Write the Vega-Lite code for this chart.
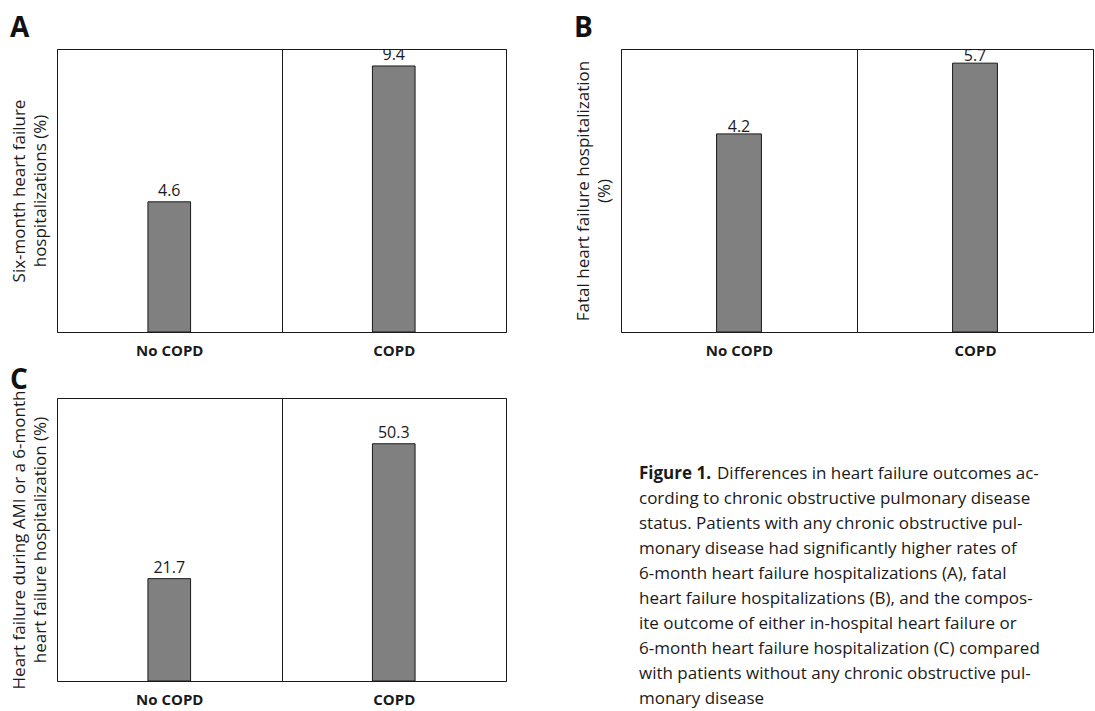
{
  "$schema": "https://vega.github.io/schema/vega-lite/v6.json",
  "background": "white",
  "padding": {"left": 9, "top": 14, "right": 0, "bottom": 0},
  "config": {
    "font": "Open Sans",
    "view": {"stroke": "#1a1a1a", "strokeWidth": 1},
    "axis": {
      "labelFont": "Open Sans", "titleFont": "Open Sans",
      "labelColor": "#1a1a1a", "titleColor": "#1a1a1a",
      "titleFontWeight": "normal", "titleFontSize": 17, "titleLineHeight": 21,
      "labelFontSize": 15, "labelFontWeight": "bold",
      "gridColor": "#1a1a1a", "gridOpacity": 1, "gridWidth": 1
    },
    "text": {"font": "Open Sans", "fontSize": 16, "color": "#1a1a1a"},
    "title": {"font": "Open Sans", "fontSize": 28, "fontWeight": "bold", "color": "#111111", "anchor": "start", "frame": "bounds", "baseline": "alphabetic"}
  },
  "datasets": {
    "a": [{"group": "No COPD", "value": 4.6}, {"group": "COPD", "value": 9.4}],
    "b": [{"group": "No COPD", "value": 4.2}, {"group": "COPD", "value": 5.7}],
    "c": [{"group": "No COPD", "value": 21.7}, {"group": "COPD", "value": 50.3}],
    "caption": [
      {"line": 1, "style": "bold", "text": "Figure 1."},
      {"line": 1, "style": "lead", "text": "Differences in heart failure outcomes ac-"},
      {"line": 2, "style": "body", "text": "cording to chronic obstructive pulmonary disease"},
      {"line": 3, "style": "body", "text": "status. Patients with any chronic obstructive pul-"},
      {"line": 4, "style": "body", "text": "monary disease had significantly higher rates of"},
      {"line": 5, "style": "body", "text": "6-month heart failure hospitalizations (A), fatal"},
      {"line": 6, "style": "body", "text": "heart failure hospitalizations (B), and the compos-"},
      {"line": 7, "style": "body", "text": "ite outcome of either in-hospital heart failure or"},
      {"line": 8, "style": "body", "text": "6-month heart failure hospitalization (C) compared"},
      {"line": 9, "style": "body", "text": "with patients without any chronic obstructive pul-"},
      {"line": 10, "style": "body", "text": "monary disease"}
    ]
  },
  "spacing": 7,
  "vconcat": [
    {
      "spacing": 66,
      "hconcat": [
        {
          "title": {"text": "A", "offset": 6},
          "width": 449, "height": 283,
          "data": {"name": "a"},
          "encoding": {
            "x": {"field": "group", "type": "nominal", "sort": null,
                  "scale": {"paddingInner": 0, "paddingOuter": 0},
                  "axis": {"title": null, "labelAngle": 0, "ticks": false, "domain": false, "grid": true, "tickBand": "extent", "labelPadding": 11}},
            "y": {"field": "value", "type": "quantitative",
                  "scale": {"domain": [0, 10], "nice": false},
                  "axis": {"title": ["Six-month heart failure", "hospitalizations (%)"], "labels": false, "ticks": false, "domain": false, "grid": false, "titlePadding": 8}}
          },
          "layer": [
            {"mark": {"type": "bar", "width": {"band": 0.19}, "fill": "#808080", "stroke": "#1a1a1a", "strokeWidth": 1}},
            {"mark": {"type": "text", "baseline": "alphabetic", "dy": -6, "clip": true},
             "encoding": {"text": {"field": "value", "type": "quantitative", "format": ".1f"}}}
          ]
        },
        {
          "title": {"text": "B", "offset": 6},
          "width": 472, "height": 283,
          "data": {"name": "b"},
          "encoding": {
            "x": {"field": "group", "type": "nominal", "sort": null,
                  "scale": {"paddingInner": 0, "paddingOuter": 0},
                  "axis": {"title": null, "labelAngle": 0, "ticks": false, "domain": false, "grid": true, "tickBand": "extent", "labelPadding": 11}},
            "y": {"field": "value", "type": "quantitative",
                  "scale": {"domain": [0, 6], "nice": false},
                  "axis": {"title": ["Fatal heart failure hospitalization", "(%)"], "labels": false, "ticks": false, "domain": false, "grid": false, "titlePadding": 8}}
          },
          "layer": [
            {"mark": {"type": "bar", "width": {"band": 0.19}, "fill": "#808080", "stroke": "#1a1a1a", "strokeWidth": 1}},
            {"mark": {"type": "text", "baseline": "alphabetic", "dy": -2, "clip": true},
             "encoding": {"text": {"field": "value", "type": "quantitative", "format": ".1f"}}}
          ]
        }
      ]
    },
    {
      "spacing": 132,
      "hconcat": [
        {
          "title": {"text": "C", "offset": -5},
          "width": 449, "height": 283,
          "data": {"name": "c"},
          "encoding": {
            "x": {"field": "group", "type": "nominal", "sort": null,
                  "scale": {"paddingInner": 0, "paddingOuter": 0},
                  "axis": {"title": null, "labelAngle": 0, "ticks": false, "domain": false, "grid": true, "tickBand": "extent", "labelPadding": 11}},
            "y": {"field": "value", "type": "quantitative",
                  "scale": {"domain": [0, 60], "nice": false},
                  "axis": {"title": ["Heart failure during AMI or a 6-month", "heart failure hospitalization (%)"], "labels": false, "ticks": false, "domain": false, "grid": false, "titlePadding": 8}}
          },
          "layer": [
            {"mark": {"type": "bar", "width": {"band": 0.19}, "fill": "#808080", "stroke": "#1a1a1a", "strokeWidth": 1}},
            {"mark": {"type": "text", "baseline": "alphabetic", "dy": -6, "clip": true},
             "encoding": {"text": {"field": "value", "type": "quantitative", "format": ".1f"}}}
          ]
        },
        {
          "width": 440, "height": 308,
          "view": {"stroke": null},
          "data": {"name": "caption"},
          "encoding": {
            "x": {"datum": 0, "type": "quantitative", "scale": {"domain": [0, 1]}, "axis": null},
            "y": {"field": "line", "type": "quantitative", "scale": {"domain": [-2.04, 10.28], "reverse": true, "nice": false, "zero": false}, "axis": null},
            "text": {"field": "text", "type": "nominal"}
          },
          "layer": [
            {"transform": [{"filter": "datum.style == 'bold'"}],
             "mark": {"type": "text", "align": "left", "baseline": "middle", "fontWeight": "bold", "fontSize": 17}},
            {"transform": [{"filter": "datum.style == 'lead'"}],
             "mark": {"type": "text", "align": "left", "baseline": "middle", "fontSize": 17, "dx": 78}},
            {"transform": [{"filter": "datum.style == 'body'"}],
             "mark": {"type": "text", "align": "left", "baseline": "middle", "fontSize": 17}}
          ]
        }
      ]
    }
  ]
}
